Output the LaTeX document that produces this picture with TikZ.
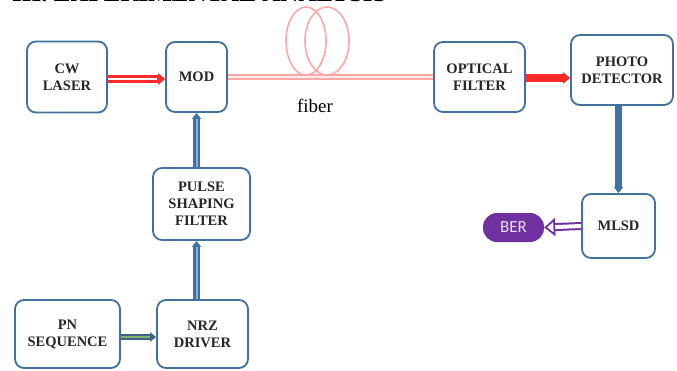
\documentclass[tikz,border=0pt]{standalone}
\usepackage{fontspec}
\setmainfont{Liberation Serif}
\newfontfamily\calfont{Carlito}
\usetikzlibrary{arrows.meta,calc}
\definecolor{boxblue}{HTML}{41719C}
\definecolor{arrblue}{HTML}{3F6FA8}
\definecolor{arrblueL}{HTML}{8FAFD8}
\definecolor{fibpink}{HTML}{FFA8A8}
\definecolor{laserred}{HTML}{FF2A2A}
\definecolor{berpurple}{HTML}{7030A0}
\definecolor{teal}{HTML}{41638A}
\definecolor{grn}{HTML}{7FB36A}
\tikzset{
  blk/.style={draw=boxblue, line width=1.8pt, rounded corners=9pt, fill=white,
    align=center, inner sep=0pt, font=\fontsize{14.5}{17}\selectfont\bfseries,
    text=black!85},
  bluearr/.style={draw=arrblue, line width=6.5pt, -{Triangle[length=6pt,width=9pt]}},
  bluein/.style={draw=arrblueL, line width=2pt}
}
\begin{document}
\begin{tikzpicture}[x=1pt,y=-1pt]
\useasboundingbox (0,0) rectangle (677,370);
% heading (cut off by the page edge, as in the reference)
\node[anchor=base west, inner sep=0pt, font=\fontsize{25}{28}\selectfont\bfseries] (head) at (12,1.6) {III. EXPERIMENTAL ANALYSIS};
% blocks
\node[blk, minimum width=80pt, minimum height=71pt] (cw) at (67,77) {CW\\LASER};
\node[blk, minimum width=61pt, minimum height=70pt] (mod) at (196.5,77) {MOD};
\node[blk, minimum width=91pt, minimum height=70pt] (of) at (479.5,77) {OPTICAL\\FILTER};
\node[blk, minimum width=102pt, minimum height=70pt] (pd) at (622,70) {PHOTO\\DETECTOR};
\node[blk, minimum width=73pt, minimum height=64pt] (mlsd) at (618.5,226) {MLSD};
\node[blk, minimum width=97pt, minimum height=72pt] (ps) at (201.5,204) {PULSE\\SHAPING\\FILTER};
\node[blk, minimum width=91pt, minimum height=68pt] (nrz) at (202.5,334) {NRZ\\DRIVER};
\node[blk, minimum width=105pt, minimum height=68pt] (pn) at (67.5,334) {PN\\SEQUENCE};
\node[fill=berpurple, rounded corners=14pt, minimum width=61pt, minimum height=29pt, inner sep=0pt,
  text=white!85!berpurple, font=\calfont\fontsize{17}{19}\selectfont] (ber) at (513.5,227.5) {BER};
% fiber
\draw[fibpink, line width=1.6pt] (306,41) ellipse [x radius=20, y radius=34];
\draw[fibpink, line width=1.6pt] (327,41) ellipse [x radius=22, y radius=34];
\draw[fibpink, line width=6pt] (mod.east) -- (of.west);
\draw[white!75!fibpink, line width=2.4pt] (mod.east) -- (of.west);
\node[font=\fontsize{19}{22}\selectfont] (fib) at (315,106) {fiber};
% CW -> MOD (red double arrow)
\draw[laserred, line width=7.5pt, -{Triangle[length=7pt,width=11pt]}] ([yshift=-2pt]cw.east) -- ([yshift=-2pt]mod.west);
\draw[white, line width=2.8pt, shorten >=8pt] ([yshift=-2pt]cw.east) -- ([yshift=-2pt]mod.west);
% OF -> PD (solid red)
\draw[laserred, line width=7.5pt, -{Triangle[length=7pt,width=11pt]}] ([yshift=-1pt]of.east) -- ([yshift=-1pt]of.east -| pd.west);
% blue vertical arrows
\draw[bluearr] (ps.north -| mod) -- (mod.south);
\draw[bluein, shorten >=6pt] (ps.north -| mod) -- (mod.south);
\draw[bluearr] (nrz.north -| mod) -- (ps.south -| mod);
\draw[bluein, shorten >=6pt] (nrz.north -| mod) -- (ps.south -| mod);
\draw[bluearr] (pd.south -| mlsd) -- (mlsd.north);
% PN -> NRZ
\draw[teal, line width=6.5pt, -{Triangle[length=6pt,width=9pt]}] ([yshift=-3pt]pn.east) -- ([yshift=-3pt]nrz.west);
\draw[grn, line width=2.2pt, shorten >=6pt] ([yshift=-3pt]pn.east) -- ([yshift=-3pt]nrz.west);
% MLSD -> BER (hollow purple)
\draw[berpurple, line width=8pt, shorten >=10pt] (mlsd.west) -- (ber.east);
\draw[white, line width=4pt, -{Triangle[open, color=berpurple, fill=white, line width=1.8pt, length=11pt, width=18pt]}] (mlsd.west) -- (ber.east);
\end{tikzpicture}
\end{document}
